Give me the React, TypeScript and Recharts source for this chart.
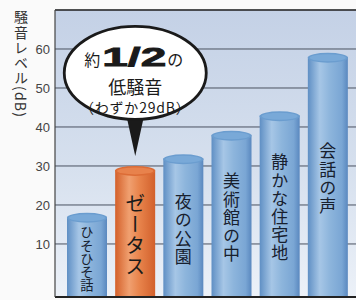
import React from "react";
import {
  BarChart,
  Bar,
  XAxis,
  YAxis,
  CartesianGrid,
  ReferenceLine,
  ReferenceDot,
} from "recharts";

const categories = ["ひそひそ話", "ゼータス", "夜の公園", "美術館の中", "静かな住宅地", "会話の声"];
const levels = [17, 29, 32, 38, 43, 58];
const yTicks = [10, 20, 30, 40, 50, 60];
const yTitle = "騒音レベル(dB)";
const highlight = "ゼータス";
const calloutLines = ["約", "1/2", "の", "低騒音", "（わずか29dB）"];

const Y_MIN = -3.6;
const Y_MAX = 70;

const data = categories.map((name, i) => ({ name, db: levels[i] }));

const JP = '"Noto Sans CJK JP", "Noto Sans", sans-serif';
const LAT = '"Liberation Sans", Arial, sans-serif';

// cylinder-looking bar with the label written vertically inside
function Cylinder(props: any) {
  const { x, y, width, height, payload } = props;
  if (height <= 0) return null;
  const hot = payload.name === highlight;
  const cx = x + width / 2;
  const ry = 5;
  const n = payload.name.length;
  // shrink the label when the bar is too short for it
  const fs = Math.min(hot ? 20 : 17, (height - 14) / n);
  return (
    <g>
      <rect x={x} y={y} width={width} height={height} fill={hot ? "url(#bodyOrange)" : "url(#bodyBlue)"} />
      <ellipse cx={cx} cy={y + 1} rx={width / 2} ry={ry} fill={hot ? "#dc6c36" : "#6b9dcf"} />
      <ellipse cx={cx} cy={y + 1} rx={width / 2 - 2} ry={ry - 1.5} fill={hot ? "#e8824c" : "#79a9d8"} />
      <text
        x={cx}
        y={y + height / 2 + 2}
        textAnchor="middle"
        fontFamily={JP}
        fontSize={fs}
        letterSpacing={fs > 15 ? 1.2 : 0}
        fill={hot ? "#1a1a1a" : "#17202e"}
        style={{ writingMode: "vertical-rl" }}
      >
        {payload.name}
      </text>
    </g>
  );
}

// speech-bubble pointing down at the highlighted bar
function Callout(props: any) {
  const { cx, cy } = props;
  if (cx == null) return null;
  const tipY = cy - 14;
  const ey = cy - 97;
  return (
    <g>
      <path d={`M ${cx - 9} ${ey + 42} L ${cx} ${tipY} L ${cx + 9} ${ey + 42} Z`} fill="#1a1a1a" />
      <ellipse cx={cx} cy={ey} rx={71} ry={46.5} fill="#fff" stroke="#1a1a1a" strokeWidth={2.8} />
      <text x={cx - 43} y={ey - 7} textAnchor="middle" fontFamily={JP} fontSize={16} fill="#1a1a1a">
        {calloutLines[0]}
      </text>
      <text
        x={cx - 33}
        y={ey - 7}
        fontFamily={LAT}
        fontSize={25}
        fontWeight={700}
        textLength={64}
        lengthAdjust="spacingAndGlyphs"
        stroke="#1a1a1a"
        strokeWidth={0.8}
        fill="#1a1a1a"
      >
        {calloutLines[1]}
      </text>
      <text x={cx + 32} y={ey - 7} fontFamily={JP} fontSize={16} fill="#1a1a1a">
        {calloutLines[2]}
      </text>
      <text x={cx} y={ey + 21} textAnchor="middle" fontFamily={JP} fontSize={18} fill="#1a1a1a">
        {calloutLines[3]}
      </text>
      <text x={cx} y={ey + 40} textAnchor="middle" fontFamily={JP} fontSize={14} letterSpacing={0.8} fill="#1a1a1a">
        {calloutLines[4]}
      </text>
    </g>
  );
}

function YTitle(props: any) {
  const vb = props.viewBox;
  return (
    <text
      x={21}
      y={vb.y}
      fontFamily={JP}
      fontSize={14}
      letterSpacing={1.2}
      fill="#333"
      style={{ writingMode: "vertical-rl" }}
    >
      {yTitle}
    </text>
  );
}

export default function App() {
  return (
    <div style={{ position: "absolute", left: 0, top: 0, width: 356, height: 300, background: "#fafafa" }}>
      <BarChart width={356} height={300} data={data} margin={{ top: 10, right: 0, bottom: 0, left: 0 }} barSize={40}>
        <defs>
          <linearGradient id="plotBg" x1="0" y1="0" x2="0" y2="1">
            <stop offset="0%" stopColor="#c4d1e6" />
            <stop offset="55%" stopColor="#d6e0ee" />
            <stop offset="100%" stopColor="#ecf1f8" />
          </linearGradient>
          <linearGradient id="bodyBlue" x1="0" y1="0" x2="1" y2="0">
            <stop offset="0%" stopColor="#5f8fc4" />
            <stop offset="30%" stopColor="#a6c6e6" />
            <stop offset="55%" stopColor="#8db5dc" />
            <stop offset="85%" stopColor="#7aa6d4" />
            <stop offset="100%" stopColor="#5a88bf" />
          </linearGradient>
          <linearGradient id="bodyOrange" x1="0" y1="0" x2="1" y2="0">
            <stop offset="0%" stopColor="#d4602a" />
            <stop offset="35%" stopColor="#f0a070" />
            <stop offset="60%" stopColor="#e8844c" />
            <stop offset="100%" stopColor="#d2602c" />
          </linearGradient>
        </defs>
        <CartesianGrid vertical={false} stroke="#4a5260" strokeWidth={1} fill="url(#plotBg)" fillOpacity={1} />
        <XAxis
          dataKey="name"
          tick={false}
          tickLine={false}
          axisLine={{ stroke: "#222", strokeWidth: 2 }}
          height={3}
          padding={{ left: 8, right: 4 }}
        />
        <YAxis
          domain={[Y_MIN, Y_MAX]}
          ticks={yTicks}
          width={55}
          tickLine={false}
          tickSize={5}
          tickMargin={0}
          axisLine={{ stroke: "#444", strokeWidth: 1.2 }}
          tick={{ fontSize: 13, fill: "#444", fontFamily: LAT }}
          allowDataOverflow
          label={<YTitle />}
        />
        <ReferenceLine y={Y_MAX} stroke="#333" strokeWidth={1.5} />
        <Bar dataKey={(d: any) => [Y_MIN, d.db]} shape={<Cylinder />} isAnimationActive={false} />
        <ReferenceDot x={highlight} y={levels[categories.indexOf(highlight)]} shape={<Callout />} />
      </BarChart>
    </div>
  );
}
